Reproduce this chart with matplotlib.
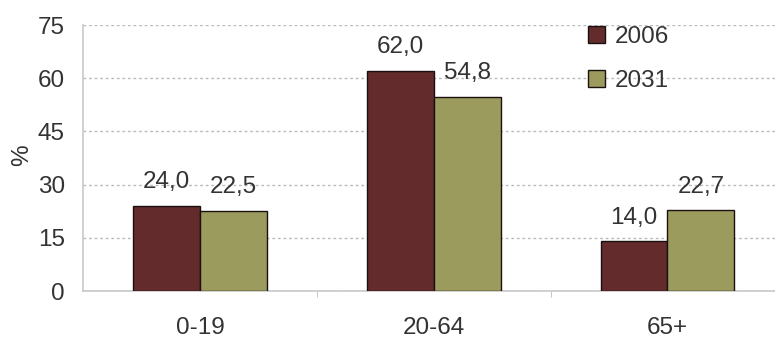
import matplotlib
matplotlib.use("Agg")
import matplotlib.pyplot as plt
import numpy as np

categories = ["0-19", "20-64", "65+"]
series_names = ["2006", "2031"]
values_2006 = [24.0, 62.0, 14.0]
values_2031 = [22.5, 54.8, 22.7]
yticks = [0, 15, 30, 45, 60, 75]

colors = ["#632B2C", "#9C9B5E"]
fs = 17.5
tc = "#333333"

plt.rcParams['font.family'] = ['Liberation Sans', 'DejaVu Sans']
fig = plt.figure(figsize=(7.75, 3.39), dpi=100)
ax = fig.add_axes([83/775, 48/339, (775-83)/775, (291-25)/339])

x = np.arange(len(categories))
w = 0.286
for i, (vals, name) in enumerate(zip([values_2006, values_2031], series_names)):
    pos = x + (i - 0.5) * w
    ax.bar(pos, vals, width=w, color=colors[i], edgecolor="#1a1010",
           linewidth=1.0, label=name, zorder=3)
    for p, v in zip(pos, vals):
        ax.text(p, v + 5.0, f"{v:.1f}".replace(".", ","), ha="center", va="baseline",
                fontsize=fs, color=tc)

ax.set_xlim(-0.5, 2.46)
ax.set_ylim(0, 75)
ax.set_yticks(yticks)
ax.set_yticklabels([str(t) for t in yticks], fontsize=fs, color=tc)
ax.set_xticks(x)
ax.set_xticklabels(categories, fontsize=fs, color=tc)
ax.tick_params(axis="x", length=0, pad=19)
ax.tick_params(axis="y", length=0, pad=13)
ax.set_xticks([0.5, 1.5], minor=True)
ax.tick_params(axis="x", which="minor", length=4, color="#bbbbbb", direction="out")

ax.grid(axis="y", linestyle=(0, (2, 2)), color="#bbbbbb", linewidth=1.0, zorder=0)
for s in ["top", "right"]:
    ax.spines[s].set_visible(False)
for s in ["left", "bottom"]:
    ax.spines[s].set_color("#c8c8c8")
    ax.spines[s].set_linewidth(1.2)

fig.text(22/775, 1 - 155/339, "%", rotation=90, fontsize=fs, color=tc,
         ha="center", va="center")

leg = ax.legend(loc="upper left", bbox_to_anchor=(588/775, 1 - 26/339),
                bbox_transform=fig.transFigure, frameon=False, borderpad=0,
                borderaxespad=0, fontsize=fs, handlelength=0.68, handleheight=0.68,
                handletextpad=0.4, labelspacing=0.9, labelcolor=tc)

fig.savefig("out.png", dpi=100)
